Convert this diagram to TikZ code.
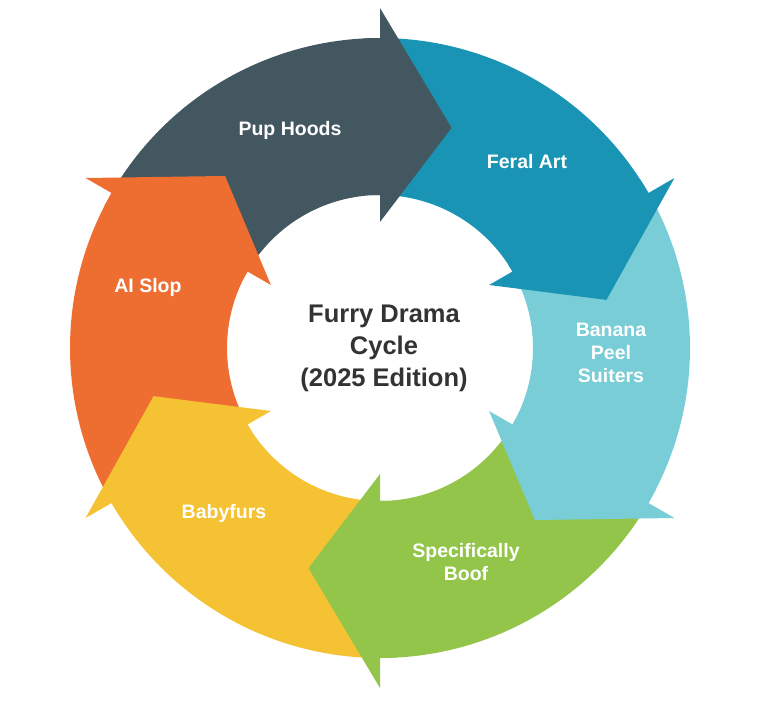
\documentclass[tikz,border=0pt]{standalone}
\usepackage{fontspec}
\setmainfont{Liberation Sans}
\definecolor{cA}{HTML}{435761}
\definecolor{cB}{HTML}{1A94B5}
\definecolor{cC}{HTML}{78CDD7}
\definecolor{cD}{HTML}{92C54A}
\definecolor{cE}{HTML}{F4C232}
\definecolor{cF}{HTML}{EE6E31}
\definecolor{ctext}{HTML}{333333}
\tikzset{lab/.style={text=white,font=\bfseries\fontsize{19.5}{23}\selectfont,align=center}}
\begin{document}
\begin{tikzpicture}[x=1pt,y=1pt]
\useasboundingbox (0,0) rectangle (764,-704);
\begin{scope}[shift={(380,-348)}]
% bodies
\foreach \a/\c in {150/cA,90/cB,30/cC,-30/cD,-90/cE,-150/cF}{
  \fill[\c] (\a:310) arc[start angle=\a,end angle=\a-60,radius=310]
     -- (\a-60:153) arc[start angle=\a-60,end angle=\a,radius=153] -- cycle;
}
% heads
\foreach \b/\c in {90/cA,30/cB,-30/cC,-90/cD,-150/cE,150/cF}{
  \fill[\c] (\b:340) -- (\b-18:231.5) -- (\b:126) -- (\b:153) -- (\b+3:153) -- (\b+3:310) -- (\b:310) -- cycle;
}
\end{scope}
\node[lab] (pup) at (290,-130) {Pup Hoods};
\node[lab] (feral) at (527,-162) {Feral Art};
\node[lab] (banana) at (611,-353) {Banana\\Peel\\Suiters};
\node[lab] (boof) at (466,-562) {Specifically\\Boof};
\node[lab] (baby) at (224,-513) {Babyfurs};
\node[lab] (ai) at (148,-287) {AI Slop};
\node[text=ctext,font=\bfseries\fontsize{25.5}{32}\selectfont,align=center] (center) at (384,-348) {Furry Drama\\Cycle\\(2025 Edition)};
\end{tikzpicture}
\end{document}
